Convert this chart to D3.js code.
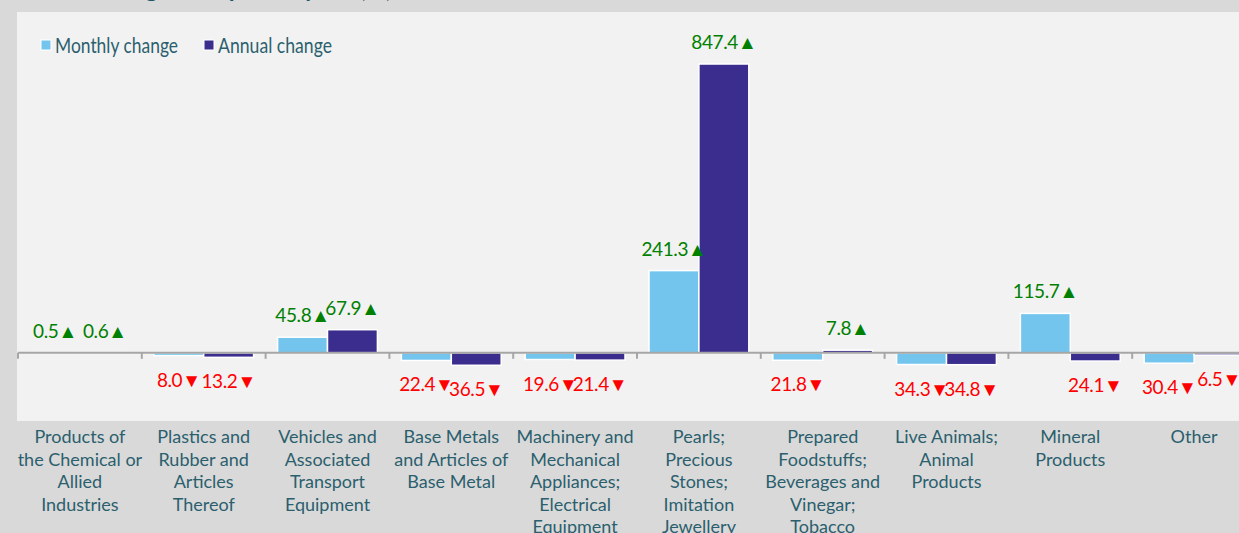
<!DOCTYPE html>
<html>
<head>
<meta charset="utf-8">
<script src="https://cdn.jsdelivr.net/npm/d3@7"></script>
<style>
  body { margin: 0; background: #d9d9d9; overflow: hidden; }
  svg { display: block; font-family: Lato, "Noto Sans", sans-serif; }
</style>
</head>
<body>
<svg id="chart" width="1239" height="533"></svg>
<script>
// data
var categories = [
  ["Products of", "the Chemical or", "Allied", "Industries"],
  ["Plastics and", "Rubber and", "Articles", "Thereof"],
  ["Vehicles and", "Associated", "Transport", "Equipment"],
  ["Base Metals", "and Articles of", "Base Metal"],
  ["Machinery and", "Mechanical", "Appliances;", "Electrical", "Equipment"],
  ["Pearls;", "Precious", "Stones;", "Imitation", "Jewellery"],
  ["Prepared", "Foodstuffs;", "Beverages and", "Vinegar;", "Tobacco"],
  ["Live Animals;", "Animal", "Products"],
  ["Mineral", "Products"],
  ["Other"]
];
var monthly = [0.5, -8.0, 45.8, -22.4, -19.6, 241.3, -21.8, -34.3, 115.7, -30.4];
var annual = [0.6, -13.2, 67.9, -36.5, -21.4, 847.4, 7.8, -34.8, -24.1, -6.5];
var seriesNames = ["Monthly change", "Annual change"];
var seriesColors = ["#73c5ee", "#3b2d8e"];
var yDomain = [-200, 1000];

var chart = {};
chart.svg = d3.select("#chart");

chart.left = 18;
chart.top = 12;
chart.bottom = 421;
chart.step = 123.8;

// plot background
chart.svg.append("rect")
  .attr("x", 17).attr("y", chart.top)
  .attr("width", 1239 - 17).attr("height", chart.bottom - chart.top)
  .style("fill", "#f2f2f2");

// title (cut off at the top edge, only descenders show)
chart.svg.append("text")
  .attr("x", 392).attr("y", -3.3)
  .attr("text-anchor", "end")
  .attr("font-size", 24).attr("font-weight", "bold")
  .style("fill", "#1f5566")
  .text("Change in Imports by HS (%)");

chart.x = d3.scaleBand()
  .domain(d3.range(categories.length))
  .range([chart.left, chart.left + chart.step * categories.length])
  .paddingInner(0).paddingOuter(0);

chart.x1 = d3.scaleBand()
  .domain([0, 1])
  .range([12, chart.step - 12])
  .padding(0);

chart.y = d3.scaleLinear().domain(yDomain).range([chart.bottom, chart.top]);
var zero = chart.y(0);

var rows = categories.map(function(c, i){
  return [{s: 0, i: i, v: monthly[i]}, {s: 1, i: i, v: annual[i]}];
});

var groups = chart.svg.selectAll("g.cat")
  .data(rows)
  .enter().append("g")
  .attr("class", "cat")
  .attr("transform", function(d, i){ return "translate(" + chart.x(i) + ",0)"; });

groups.selectAll("rect")
  .data(function(d){ return d; })
  .enter().append("rect")
  .attr("x", function(d){ return chart.x1(d.s); })
  .attr("width", chart.x1.bandwidth())
  .attr("y", function(d){ return Math.min(chart.y(d.v), zero); })
  .attr("height", function(d){ return Math.abs(chart.y(d.v) - zero); })
  .style("fill", function(d){ return seriesColors[d.s]; })
  .style("stroke", "#ffffff")
  .style("stroke-width", 1.5);

// value labels
groups.selectAll("text.val")
  .data(function(d){ return d; })
  .enter().append("text")
  .attr("class", "val")
  .attr("x", function(d){ return chart.x1(d.s) + chart.x1.bandwidth() / 2; })
  .attr("y", function(d){
    return d.v >= 0 ? chart.y(d.v) - 15 : chart.y(d.v) + 31;
  })
  .attr("text-anchor", "middle")
  .attr("font-size", 19)
  .attr("letter-spacing", -0.4)
  .style("fill", function(d){ return d.v >= 0 ? "#008000" : "#ff0000"; })
  .text(function(d){ return Math.abs(d.v).toFixed(1) + (d.v >= 0 ? "▲" : "▼"); });

// zero axis with ticks between categories
chart.svg.append("line")
  .attr("x1", chart.left).attr("x2", 1239)
  .attr("y1", zero).attr("y2", zero)
  .style("stroke", "#a6a6a6").style("stroke-width", 2);
chart.svg.selectAll("line.tick")
  .data(d3.range(categories.length))
  .enter().append("line")
  .attr("class", "tick")
  .attr("x1", function(i){ return chart.x(i); })
  .attr("x2", function(i){ return chart.x(i); })
  .attr("y1", zero).attr("y2", zero + 6)
  .style("stroke", "#a6a6a6").style("stroke-width", 2);

// category labels
groups.append("text")
  .attr("x", chart.x.bandwidth() / 2)
  .attr("y", 443)
  .attr("text-anchor", "middle")
  .attr("font-size", 18)
  .style("fill", "#2b5f6e")
  .selectAll("tspan")
  .data(function(d, i){ return categories[i]; })
  .enter().append("tspan")
  .attr("x", chart.x.bandwidth() / 2)
  .attr("dy", function(d, j){ return j === 0 ? 0 : 22.5; })
  .text(function(d){ return d; });

// legend
var legendX = [41, 204];
var legend = chart.svg.selectAll("g.legend")
  .data(seriesNames)
  .enter().append("g")
  .attr("class", "legend")
  .attr("transform", function(d, i){ return "translate(" + legendX[i] + ",40)"; });
legend.append("rect")
  .attr("width", 10).attr("height", 10)
  .style("fill", function(d, i){ return seriesColors[i]; })
  .style("stroke", "#ffffff").style("stroke-width", 1);
legend.append("text")
  .attr("x", 14).attr("y", 12.5)
  .attr("font-size", 21)
  .attr("textLength", function(d, i){ return i === 0 ? 123 : 114; })
  .attr("lengthAdjust", "spacingAndGlyphs")
  .style("fill", "#2b5f6e")
  .text(function(d){ return d; });
</script>
</body>
</html>
